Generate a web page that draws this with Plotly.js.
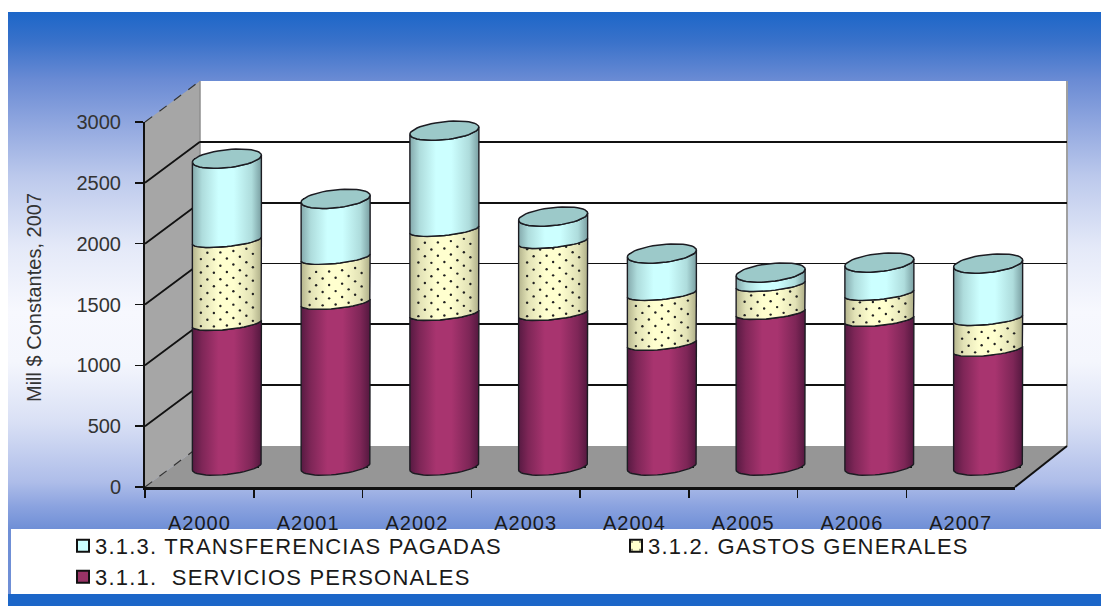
<!DOCTYPE html>
<html><head><meta charset="utf-8">
<script src="https://cdn.plot.ly/plotly-3.0.1.min.js"></script>
<style>
html,body{margin:0;padding:0;background:#fff;width:1101px;height:606px;overflow:hidden}
#bg{position:absolute;left:8px;top:12px;width:1093px;height:594px;
background:linear-gradient(to bottom,#1c66c8 0px,#3a72ca 30px,#6a8bd4 68px,#93a9e0 115px,#bcc9ec 165px,#e4e9f8 235px,#f7f8fe 300px,#f4f6fd 350px,#d9e0f5 410px,#aebde9 470px,#8aa2df 495px,#6f8fd6 517px,#6f8fd6 594px)}
#chart{position:absolute;left:0;top:0;width:1101px;height:606px}
.legendtext,.legend2text,.legend3text{letter-spacing:1.2px;transform:translateX(-8px)}
.x3tick text{letter-spacing:1px}
.y3title{translate:0 -7px}
</style></head><body>
<div id="bg"></div><div id="chart"></div>
<script>
var categories=["A2000","A2001","A2002","A2003","A2004","A2005","A2006","A2007"];
var serviciosPersonales=[1175,1348,1257,1257,1011,1265,1208,962];
var gastosGenerales=[682,370,691,592,411,230,214,254];
var transferenciasPagadas=[673,482,812,205,328,99,254,452];
var yTicks=[0,500,1000,1500,2000,2500,3000];
var nameT="3.1.3. TRANSFERENCIAS PAGADAS",nameG="3.1.2. GASTOS GENERALES",nameS="3.1.1.  SERVICIOS PERSONALES";

var W=1101,H=606;
var fx0=145,fx1=1015,fy0=487,fy1=122;
var depthX=55,depthY=41;
var px=function(x){return x/W},py=function(y){return 1-y/H};
var catW=(fx1-fx0)/categories.length, unitY=(fy0-fy1)/3000;
var rx=34.5, tilt=3.5, floorPad=100;
function arc(i,v,b,dir){
  var xs=[],ys=[],n=24;
  for(var k=0;k<=n;k++){
    var t=Math.PI*k/n; if(dir>0)t=Math.PI-t;
    xs.push(i+rx*Math.cos(t)/catW);
    ys.push(v+(tilt*Math.cos(t)-b*Math.sin(t))/unitY);
  }
  return {x:xs,y:ys};
}
function backArc(i,v,b){
  var xs=[],ys=[],n=24;
  for(var k=0;k<=n;k++){
    var t=Math.PI*k/n;
    xs.push(i+rx*Math.cos(t)/catW);
    ys.push(v+(tilt*Math.cos(t)+b*Math.sin(t))/unitY);
  }
  return {x:xs,y:ys};
}
var edge='#1c1c22';
function grad(i,c0,c1,c2,c3){
  return {type:'horizontal',start:i-rx/catW,stop:i+rx/catW,
    colorscale:[[0,c0],[0.14,c1],[0.38,c2],[0.6,c2],[0.86,c1],[1,c3]]};
}
var traces=[];
var idx=categories.map(function(c,i){return i});
function bar(name,vals,color,legendId,extra){
  var b={type:'bar',name:name,x:idx,y:vals,width:0.58,xaxis:'x2',yaxis:'y2',legend:legendId,
    marker:{color:color,line:{color:'#111',width:2}}};
  if(extra)b.marker.pattern=extra;
  return b;
}
traces.push({type:'scatter',x:[0,1],y:[0,3000],xaxis:'x',yaxis:'y',mode:'none',showlegend:false,hoverinfo:'skip'});
traces.push(bar(nameS,serviciosPersonales,'#993366','legend3'));
traces.push(bar(nameG,gastosGenerales,'#ffffcc','legend2',{shape:'.',bgcolor:'#ffffcc',fgcolor:'#111',size:11,solidity:0.03}));
traces.push(bar(nameT,transferenciasPagadas,'#ccffff','legend'));
traces.push({type:'scatter',x:categories,y:categories.map(function(){return 0}),xaxis:'x3',yaxis:'y3',mode:'none',showlegend:false,hoverinfo:'skip'});

function body(i,v0,v1,b0,b1,g){
  var a=arc(i,v1,b1,1), c=arc(i,v0,b0,-1);
  return {type:'scatter',mode:'lines',x:a.x.concat(c.x,[a.x[0]]),y:a.y.concat(c.y,[a.y[0]]),
    xaxis:'x2',yaxis:'y2',fill:'toself',fillgradient:g,line:{color:edge,width:1.4},
    showlegend:false,hoverinfo:'skip'};
}
var dotX=[],dotY=[];
categories.forEach(function(c,i){
  var s=serviciosPersonales[i],g=gastosGenerales[i],t=transferenciasPagadas[i];
  traces.push(body(i,0,s,8,6,grad(i,'#571a42','#7e2657','#a8346f','#54183f')));
  traces.push(body(i,s,s+g,6,6,grad(i,'#b4b48d','#e2e2b6','#ffffcf','#aeae88')));
  traces.push(body(i,s+g,s+g+t,6,9,grad(i,'#84a9ac','#aedcdc','#ccffff','#7a9fa2')));
  var f=arc(i,s+g+t,9,1),h=backArc(i,s+g+t,9);
  traces.push({type:'scatter',mode:'lines',x:f.x.concat(h.x),y:f.y.concat(h.y),xaxis:'x2',yaxis:'y2',
    fill:'toself',fillcolor:'#9cc9c9',line:{color:edge,width:1.5},showlegend:false,hoverinfo:'skip'});
  var bandPx=g*unitY;
  for(var r=0;r*6.7+4<bandPx-1;r++){
    for(var q=-3;q<=3;q++){
      var ox=q*13+(r%2?6.5:0), u=ox/rx;
      if(Math.abs(u)>0.93)continue;
      var lift=tilt*u-6*Math.sqrt(1-u*u)+r*6.7+4;
      dotX.push(i+ox/catW); dotY.push(s+lift/unitY);
    }
  }
});
traces.push({type:'scatter',mode:'markers',x:dotX,y:dotY,xaxis:'x2',yaxis:'y2',
  marker:{size:2.4,color:'#222'},showlegend:false,hoverinfo:'skip'});

var shapes=[
 {type:'rect',xref:'paper',yref:'paper',x0:px(fx0+depthX),x1:px(1067),y0:py(fy0-depthY),y1:py(fy1-depthY),fillcolor:'#fff',line:{width:0},layer:'below'},
 {type:'path',xref:'paper',yref:'paper',layer:'below',fillcolor:'#a6a6a6',line:{width:0},
  path:'M'+px(fx0)+','+py(fy0)+'L'+px(fx0+depthX)+','+py(fy0-depthY)+'L'+px(fx0+depthX)+','+py(fy1-depthY)+'L'+px(fx0)+','+py(fy1)+'Z'},
 {type:'path',xref:'paper',yref:'paper',layer:'below',fillcolor:'#969696',line:{width:0},
  path:'M'+px(fx0)+','+py(fy0)+'L'+px(fx0+depthX)+','+py(fy0-depthY)+'L'+px(1067)+','+py(fy0-depthY)+'L'+px(fx1)+','+py(fy0)+'Z'},
 {type:'line',xref:'paper',yref:'paper',layer:'below',x0:px(1067),x1:px(1067),y0:py(fy0-depthY),y1:py(fy1-depthY),line:{color:'#a0a0a0',width:2}},
 {type:'line',xref:'paper',yref:'paper',layer:'below',x0:px(fx0+depthX),x1:px(fx0+depthX),y0:py(fy0-depthY),y1:py(fy1-depthY),line:{color:'#8e8e8e',width:1.5}},
 {type:'line',xref:'paper',yref:'paper',layer:'below',x0:px(fx1),x1:px(1067),y0:py(fy0),y1:py(fy0-depthY),line:{color:'#111',width:2}},
 {type:'rect',xref:'paper',yref:'paper',x0:px(11),x1:1,y0:py(594),y1:py(529),fillcolor:'#fff',line:{width:0},layer:'below'},
 {type:'rect',xref:'paper',yref:'paper',x0:px(8),x1:1,y0:0,y1:py(594),fillcolor:'#1c66c8',line:{width:0},layer:'below'}
];
yTicks.forEach(function(v){
  var yf=fy0-v*unitY, dash=(v===0||v===3000);
  shapes.push({type:'line',xref:'paper',yref:'paper',layer:'below',x0:px(fx0),x1:px(fx0+depthX),y0:py(yf),y1:py(yf-depthY),
    line:{color:dash?'#333':'#111',width:dash?1.2:1.8,dash:dash?'dash':'solid'}});
});

function leg(x,y){return {orientation:'v',x:px(x),xanchor:'left',y:py(y),yanchor:'middle',bgcolor:'rgba(0,0,0,0)',
  font:{size:22,color:'#1a1a1a'},itemwidth:30}}
var layout={
 width:W,height:H,margin:{l:0,r:0,t:0,b:0},autosize:false,
 paper_bgcolor:'rgba(0,0,0,0)',plot_bgcolor:'rgba(0,0,0,0)',
 font:{family:'"Liberation Sans",Arial,sans-serif',color:'#222'},
 barmode:'stack',shapes:shapes,showlegend:true,
 xaxis:{domain:[px(fx0+depthX),px(1067)],range:[0,1],visible:false,anchor:'y',fixedrange:true},
 yaxis:{domain:[py(fy0-depthY),py(fy1-depthY)],range:[0,3000],anchor:'x',tickvals:yTicks,showticklabels:false,ticks:'',
   showgrid:true,gridcolor:'#111',gridwidth:1.8,zeroline:false,showline:false,fixedrange:true},
 xaxis2:{domain:[px(fx0+depthX/2),px(fx1+depthX/2)],range:[-0.5,7.5],visible:false,anchor:'y2',fixedrange:true},
 yaxis2:{domain:[py(fy0-depthY/2+floorPad*unitY),py(fy1-depthY/2)],range:[-floorPad,3000],visible:false,anchor:'x2',fixedrange:true},
 xaxis3:{domain:[px(fx0),px(fx1)],type:'category',categoryorder:'array',categoryarray:categories,range:[-0.5,7.5],anchor:'y3',
   tickson:'boundaries',ticks:'outside',ticklen:8,tickwidth:1.5,tickcolor:'#111',showline:true,linecolor:'#111',linewidth:2.5,
   showgrid:false,zeroline:false,ticklabelstandoff:16,tickfont:{size:20,color:'#1a1a1a'},fixedrange:true},
 yaxis3:{domain:[py(fy0),py(fy1)],range:[0,3000],anchor:'x3',tickvals:yTicks,ticks:'outside',ticklen:8,tickwidth:1.5,tickcolor:'#111',
   showline:true,linecolor:'#111',linewidth:2,showgrid:false,zeroline:false,tickfont:{size:20,color:'#333'},ticklabelstandoff:10,
   title:{text:'Mill $ Constantes, 2007',font:{size:20,color:'#333'},standoff:30},fixedrange:true},
 legend:leg(63,546),legend2:leg(616,546),legend3:leg(63,577)
};
Plotly.newPlot('chart',traces,layout,{displayModeBar:false,staticPlot:true});
</script></body></html>
